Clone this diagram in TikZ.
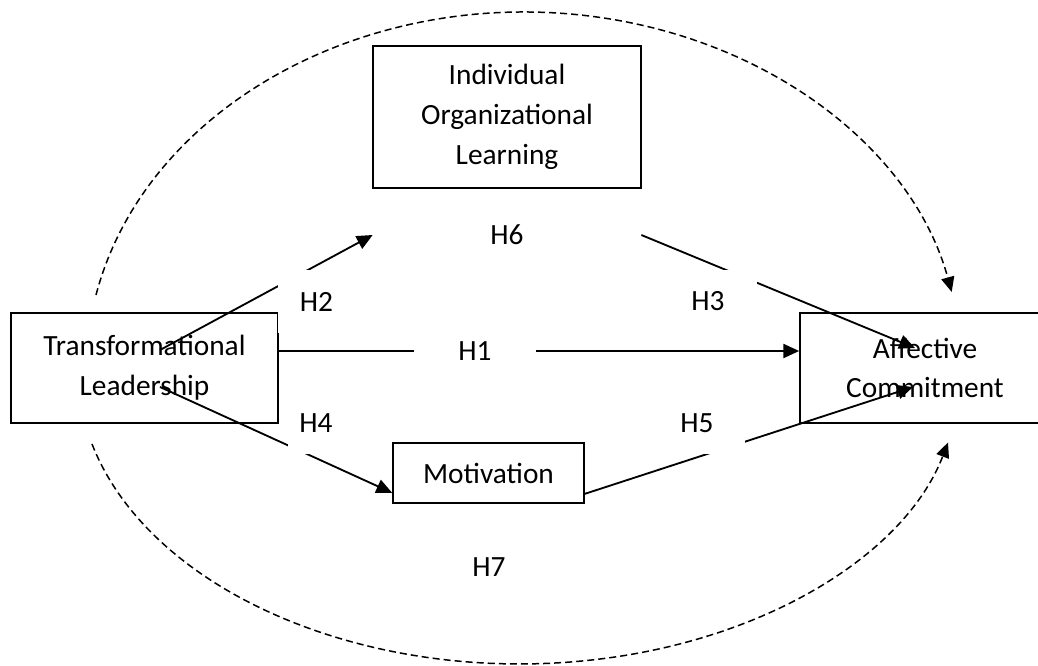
\documentclass[tikz,border=0pt]{standalone}
\usepackage{fontspec}
\setmainfont{Carlito}
\usetikzlibrary{arrows.meta,calc}
\pgfdeclarelayer{bg}
\pgfsetlayers{bg,main}
\begin{document}
\begin{tikzpicture}[x=0.2mm,y=-0.2mm,
  font=\fontsize{16.7}{22.7}\selectfont,
  box/.style={draw, line width=0.95pt, align=center, inner sep=0pt},
  conn/.style={line width=1.05pt, -{Triangle[length=9pt,width=8pt]}},
  lbl/.style={fill=white, inner sep=0pt},
  dasharc/.style={line width=0.85pt, dash pattern=on 4pt off 2.3pt, -{Triangle[length=8.5pt,width=7.5pt]}}]
\clip (0,0) rectangle (1038,665);
% boxes
\node[box, minimum width=267*0.2mm, minimum height=110*0.2mm] (tl) at (144.5,368) {Transformational\\Leadership};
\node[box, minimum width=268*0.2mm, minimum height=142*0.2mm] (iol) at (507,117) {Individual\\Organizational\\Learning};
\node[box, minimum width=250*0.2mm, minimum height=110*0.2mm] (ac) at (925,368) {Affective\\Commitment};
\node[box, minimum width=191*0.2mm, minimum height=60*0.2mm] (mot) at (488.5,473) {Motivation};
% labels (white text boxes over the connectors)
\node[inner sep=0pt, minimum width=268*0.2mm] (h6) at (507,235) {H6};
\node[inner sep=0pt] (h7) at (489,567) {H7};
\node[lbl, minimum width=122*0.2mm, minimum height=40*0.2mm] (h1) at (475,351) {H1};
\node[lbl, minimum width=77*0.2mm, minimum height=63*0.2mm] (h2) at (316.5,301.5) {H2};
\node[lbl, minimum width=98*0.2mm, minimum height=63*0.2mm] (h3) at (708,301.5) {H3};
\node[lbl, minimum width=56*0.2mm, minimum height=61*0.2mm] (h4) at (316,423.5) {H4};
\node[lbl, minimum width=96*0.2mm, minimum height=61*0.2mm] (h5) at (697,423.5) {H5};
% connectors
\begin{pgfonlayer}{bg}
\draw[conn] (tl.east |- h1) -- (ac.west |- h1);
\draw[conn] ([shift={(15.5,-18)}]tl.center) -- (h6.west);
\draw[conn] (h6.east) -- ([shift={(-10,-20)}]ac.center);
\draw[conn] ([shift={(15.5,19)}]tl.center) -- ([shift={(0,-11)}]mot.south west);
\draw[conn] ([shift={(0,-10)}]mot.south east) -- ([shift={(-12,19)}]ac.center);
\coordinate (t0) at (96,295);
\coordinate (b0) at (92,444);
\draw[dasharc] (t0) arc[start angle=167.9, end angle=12.6, x radius=438*0.2mm, y radius=358*0.2mm];
\draw[dasharc] (b0) arc[start angle=194.6, end angle=345.7, x radius=442*0.2mm, y radius=294*0.2mm];
\end{pgfonlayer}
\end{tikzpicture}
\end{document}
